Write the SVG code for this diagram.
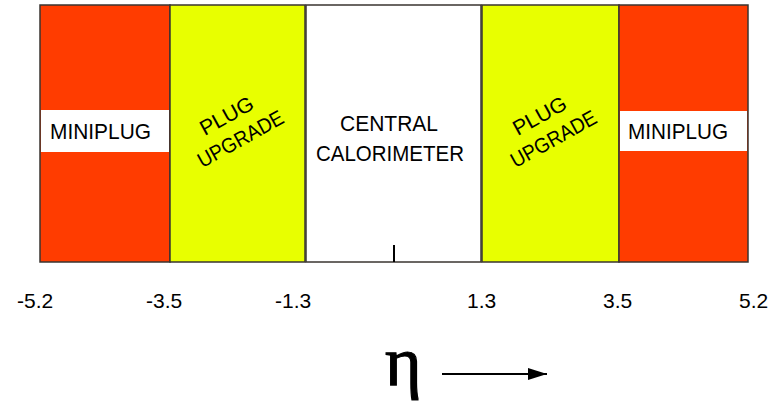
<svg xmlns="http://www.w3.org/2000/svg" width="780" height="401" viewBox="0 0 780 401">
<style>
.box{stroke:#3a3530;stroke-width:1.5}
.red{fill:#FF3C00}
.yel{fill:#E8FF00}
.wht{fill:#FFFFFF}
.lbl{font-family:"Liberation Sans",Arial,sans-serif;fill:#000}
.num{font-family:"Liberation Sans",Arial,sans-serif;font-size:21px;fill:#000}
</style>
<defs>
<marker id="ah" markerWidth="20" markerHeight="12" refX="19" refY="6" orient="auto" markerUnits="userSpaceOnUse">
<path d="M0,0 L19,6 L0,12 Z" fill="#000"/>
</marker>
</defs>
<rect width="780" height="401" fill="#fff"/>
<g id="miniplug-left">
<rect class="box red" x="40" y="5" width="130" height="257"/>
<rect class="wht" x="41" y="110" width="128" height="42"/>
<text class="lbl" x="50" y="138.5" font-size="22" textLength="101" lengthAdjust="spacingAndGlyphs">MINIPLUG</text>
</g>
<g id="plug-upgrade-left">
<rect class="box yel" x="170" y="5" width="135" height="257"/>
<g transform="rotate(-29 235 133)">
<text class="lbl" x="236" y="121" font-size="21" text-anchor="middle" textLength="58" lengthAdjust="spacingAndGlyphs">PLUG</text>
<text class="lbl" x="237" y="148" font-size="21" text-anchor="middle" textLength="95" lengthAdjust="spacingAndGlyphs">UPGRADE</text>
</g>
</g>
<g id="central-calorimeter">
<rect class="box wht" x="306" y="5" width="175" height="257"/>
<text class="lbl" x="389" y="130.5" font-size="21.5" text-anchor="middle" textLength="98" lengthAdjust="spacingAndGlyphs">CENTRAL</text>
<text class="lbl" x="390" y="161" font-size="21.5" text-anchor="middle" textLength="148" lengthAdjust="spacingAndGlyphs">CALORIMETER</text>
<line x1="394" y1="245" x2="394" y2="262" stroke="#000" stroke-width="2"/>
</g>
<g id="plug-upgrade-right">
<rect class="box yel" x="482" y="5" width="137" height="257"/>
<g transform="rotate(-29 548 133)">
<text class="lbl" x="549" y="121" font-size="21" text-anchor="middle" textLength="58" lengthAdjust="spacingAndGlyphs">PLUG</text>
<text class="lbl" x="550" y="148" font-size="21" text-anchor="middle" textLength="95" lengthAdjust="spacingAndGlyphs">UPGRADE</text>
</g>
</g>
<g id="miniplug-right">
<rect class="box red" x="619" y="5" width="129" height="257"/>
<rect class="wht" x="620" y="111" width="127" height="40"/>
<text class="lbl" x="628" y="138.5" font-size="22" textLength="100" lengthAdjust="spacingAndGlyphs">MINIPLUG</text>
</g>
<g id="axis-labels">
<text class="num" x="17" y="308">-5.2</text>
<text class="num" x="146" y="308">-3.5</text>
<text class="num" x="275" y="308">-1.3</text>
<text class="num" x="467" y="308">1.3</text>
<text class="num" x="603" y="308">3.5</text>
<text class="num" x="739" y="308">5.2</text>
</g>
<g id="eta">
<text x="385" y="385" font-family="'Liberation Serif','Times New Roman',serif" font-size="70" fill="#000" stroke="#000" stroke-width="1.2">η</text>
</g>
<g id="connectors">
<line x1="442" y1="374" x2="547" y2="374" stroke="#000" stroke-width="2" marker-end="url(#ah)"/>
</g>
</svg>
